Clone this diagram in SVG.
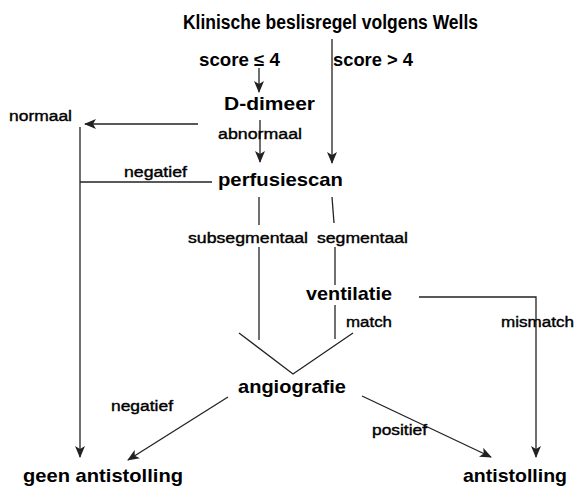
<svg xmlns="http://www.w3.org/2000/svg" width="576" height="490" viewBox="0 0 576 490">
<style>
.n{font-family:"Liberation Sans",Arial,sans-serif;font-weight:bold;font-size:19px;fill:#000}
.l{font-family:"Liberation Sans",Arial,sans-serif;font-size:15.5px;fill:#000;stroke:#000;stroke-width:0.4}
.c{fill:none;stroke:#222;stroke-width:1.3}
</style>
<defs>
<marker id="ah" viewBox="0 0 12 10" refX="11" refY="5" markerWidth="12" markerHeight="10" markerUnits="userSpaceOnUse" orient="auto">
<path d="M0,0 L12,5 L0,10 L3,5 z" fill="#222"/>
</marker>
</defs>
<rect width="576" height="490" fill="#fff"/>
<g id="connectors">
<line class="c" x1="332" y1="39" x2="332" y2="163" marker-end="url(#ah)"/>
<line class="c" x1="259" y1="68" x2="259" y2="92" marker-end="url(#ah)"/>
<line class="c" x1="198" y1="124" x2="85" y2="124" marker-end="url(#ah)"/>
<line class="c" x1="80" y1="127" x2="80" y2="457" marker-end="url(#ah)"/>
<line class="c" x1="260" y1="120" x2="260" y2="162" marker-end="url(#ah)"/>
<line class="c" x1="80" y1="182" x2="212" y2="182"/>
<line class="c" x1="259" y1="197" x2="259" y2="225"/>
<line class="c" x1="259" y1="247" x2="259" y2="340"/>
<line class="c" x1="332" y1="197" x2="334" y2="223"/>
<line class="c" x1="335" y1="247" x2="335" y2="285"/>
<line class="c" x1="335" y1="305" x2="335" y2="339"/>
<polyline class="c" points="419,297 536,297 536,457" marker-end="url(#ah)"/>
<polyline class="c" points="239,333 293,374 353,333"/>
<line class="c" x1="228" y1="397" x2="128" y2="460" marker-end="url(#ah)"/>
<line class="c" x1="362" y1="396" x2="491" y2="457" marker-end="url(#ah)"/>
</g>
<g id="title"><text class="n" style="font-size:19.5px" x="183" y="29" textLength="295" lengthAdjust="spacingAndGlyphs">Klinische beslisregel volgens Wells</text></g>
<g id="score-low"><text class="n" style="font-size:17.5px" x="199" y="66" textLength="81" lengthAdjust="spacingAndGlyphs">score ≤ 4</text></g>
<g id="score-high"><text class="n" style="font-size:17.5px" x="333" y="66" textLength="80" lengthAdjust="spacingAndGlyphs">score &gt; 4</text></g>
<g id="d-dimeer"><text class="n" x="224" y="110" textLength="91" lengthAdjust="spacingAndGlyphs">D-dimeer</text></g>
<g id="perfusiescan"><text class="n" x="218" y="186" textLength="125" lengthAdjust="spacingAndGlyphs">perfusiescan</text></g>
<g id="ventilatie"><text class="n" x="306" y="300" textLength="86" lengthAdjust="spacingAndGlyphs">ventilatie</text></g>
<g id="angiografie"><text class="n" x="238" y="393" textLength="108" lengthAdjust="spacingAndGlyphs">angiografie</text></g>
<g id="geen-antistolling"><text class="n" x="23" y="482" textLength="160" lengthAdjust="spacingAndGlyphs">geen antistolling</text></g>
<g id="antistolling"><text class="n" x="463" y="482" textLength="104" lengthAdjust="spacingAndGlyphs">antistolling</text></g>
<g id="labels">
<text class="l" x="9" y="121" textLength="63" lengthAdjust="spacingAndGlyphs">normaal</text>
<text class="l" x="218" y="139" textLength="84" lengthAdjust="spacingAndGlyphs">abnormaal</text>
<text class="l" x="124" y="177" textLength="63" lengthAdjust="spacingAndGlyphs">negatief</text>
<text class="l" x="188" y="243" textLength="120" lengthAdjust="spacingAndGlyphs">subsegmentaal</text>
<text class="l" x="317" y="243" textLength="91" lengthAdjust="spacingAndGlyphs">segmentaal</text>
<text class="l" x="346" y="327" textLength="46" lengthAdjust="spacingAndGlyphs">match</text>
<text class="l" x="501" y="327" textLength="73" lengthAdjust="spacingAndGlyphs">mismatch</text>
<text class="l" x="111" y="411" textLength="62" lengthAdjust="spacingAndGlyphs">negatief</text>
<text class="l" x="372" y="435" textLength="55" lengthAdjust="spacingAndGlyphs">positief</text>
</g>
</svg>
